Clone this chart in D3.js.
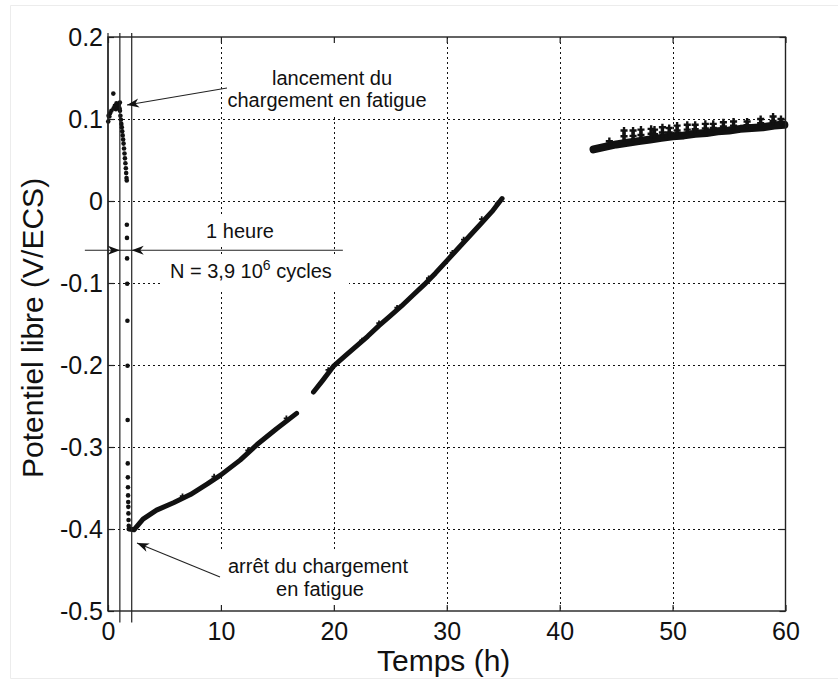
<!DOCTYPE html>
<html>
<head>
<meta charset="utf-8">
<script src="https://cdn.jsdelivr.net/npm/d3@7"></script>
<style>
  body { margin: 0; background: #fff; }
  text { font-family: "Liberation Sans", Arial, Helvetica, sans-serif; fill: #111; }
</style>
</head>
<body>
<svg id="chart" width="838" height="682"></svg>
<script>
// axis ticks
const xTicks = [0, 10, 20, 30, 40, 50, 60];
const yTicks = [-0.5, -0.4, -0.3, -0.2, -0.1, 0, 0.1, 0.2];

// [time (h), potential (V/ECS)]
const startPts = [[0.02, 0.097], [0.05, 0.104], [0.12, 0.103], [0.18, 0.107], [0.3, 0.110],
  [0.47, 0.131], [0.5, 0.113], [0.6, 0.116], [0.7, 0.112], [0.75, 0.119],
  [0.85, 0.114], [0.95, 0.117], [1.02, 0.113], [1.05, 0.120]];
const descentPts = [[1.06, 0.110], [1.1, 0.104], [1.14, 0.099], [1.18, 0.094], [1.22, 0.090],
  [1.26, 0.085], [1.3, 0.080], [1.34, 0.075], [1.38, 0.070], [1.42, 0.064], [1.46, 0.058],
  [1.5, 0.052], [1.54, 0.046], [1.58, 0.040], [1.61, 0.034], [1.64, 0.028], [1.66, 0.025]];
const dropPts = [[1.67, -0.029], [1.68, -0.045], [1.69, -0.070], [1.70, -0.101], [1.72, -0.146],
  [1.73, -0.201], [1.74, -0.267], [1.75, -0.320], [1.76, -0.337], [1.77, -0.349],
  [1.78, -0.359], [1.79, -0.367], [1.80, -0.373], [1.81, -0.381], [1.82, -0.389], [1.84, -0.396]];
const recovery1 = [[1.86, -0.400], [2.3, -0.401], [3.1, -0.388], [4.3, -0.377], [5.8, -0.368],
  [7.3, -0.358], [8.8, -0.345], [10.0, -0.334], [11.7, -0.316], [13.2, -0.297],
  [14.9, -0.278], [16.7, -0.259]];
const recovery2 = [[18.2, -0.233], [19.0, -0.219], [20.0, -0.201], [21, -0.189], [22, -0.177],
  [23, -0.165], [24, -0.152], [25, -0.140], [26, -0.128], [27, -0.115], [28, -0.102],
  [29, -0.088], [30, -0.073], [31, -0.058], [32, -0.043], [33, -0.028], [34, -0.013], [34.9, 0.003]];
// isolated points sitting just above the two recovery segments
const bumps = [[6.6, -0.360], [9.4, -0.336], [12.4, -0.304], [15.8, -0.265], [19.5, -0.206],
  [22.5, -0.170], [24.0, -0.149], [25.6, -0.130], [28.4, -0.094], [30.5, -0.063],
  [31.5, -0.047], [33.1, -0.022], [34.5, -0.003]];
const plateau = [[43.0, 0.063], [44, 0.066], [45, 0.069], [46, 0.071], [47, 0.073], [48, 0.075],
  [49, 0.077], [50, 0.079], [51, 0.080], [52, 0.082], [53, 0.083], [54, 0.085], [55, 0.086],
  [56, 0.088], [57, 0.089], [58, 0.090], [59, 0.092], [59.9, 0.093]];
// [time, low, top] of the noisy columns above the plateau
const spikes = [[44.4, 0.067, 0.073], [45.7, 0.072, 0.086], [46.5, 0.073, 0.086], [47.2, 0.074, 0.087],
  [48.1, 0.076, 0.088], [48.4, 0.076, 0.087], [49.1, 0.077, 0.090], [49.7, 0.078, 0.089],
  [50.4, 0.080, 0.092], [51.3, 0.081, 0.093], [52.0, 0.082, 0.093], [52.9, 0.083, 0.094],
  [53.6, 0.084, 0.094], [54.5, 0.086, 0.096], [55.4, 0.087, 0.097], [56.6, 0.088, 0.097],
  [57.8, 0.090, 0.100], [58.9, 0.092, 0.103], [59.6, 0.093, 0.100]];

// annotation marks (time, potential)
const markerLines = [[0, 0.205, -0.5], [1.05, 0.205, -0.514], [2.1, 0.205, -0.514]];
const hourArrow = {y: -0.06, from: -2.05, to: 20.8, left: 1.05, right: 2.1};

const svg = d3.select("#chart");
const x = d3.scaleLinear().domain([0, 60]).range([108, 785.5]);
const y = d3.scaleLinear().domain([-0.5, 0.2]).range([611, 37]);
const fmtY = d => String(Math.round(d * 10) / 10);
const px = v => Math.round(v) + 0.5;

  // faint picture border
svg.append("path")
    .attr("d", "M850,5.5H10.5V678.5H850")
    .attr("fill", "none")
    .attr("stroke", "#ececec");

  // dotted grid
const grid = svg.append("g")
    .attr("stroke", "#111")
    .attr("stroke-dasharray", "2,3")
    .attr("shape-rendering", "crispEdges");
grid.selectAll("line.gx").data(xTicks.slice(1, -1)).join("line")
    .attr("x1", d => px(x(d))).attr("x2", d => px(x(d)))
    .attr("y1", y(0.2)).attr("y2", y(-0.5));
grid.selectAll("line.gy").data(yTicks.slice(1, -1)).join("line")
    .attr("x1", x(0)).attr("x2", x(60))
    .attr("y1", d => px(y(d))).attr("y2", d => px(y(d)));

  // white boxes behind annotation texts
const boxes = [[226, 40, 206, 74], [200, 214, 80, 31], [163, 257, 186, 33], [221, 550, 198, 58]];
svg.selectAll("rect.box").data(boxes).join("rect")
    .attr("x", d => d[0]).attr("y", d => d[1])
    .attr("width", d => d[2]).attr("height", d => d[3])
    .attr("fill", "#fff");

  // axes with inward ticks
const styleAxis = g => {
  g.select(".domain").remove();
  g.selectAll("line").attr("stroke", "#222").attr("stroke-width", 1.2);
  g.selectAll("text").style("font-size", "25px").attr("fill", "#111");
};
svg.append("g").attr("transform", `translate(0,${y(-0.5)})`)
    .call(d3.axisBottom(x).tickValues(xTicks).tickSize(-6).tickPadding(11).tickFormat(d3.format("d")))
    .call(styleAxis);
svg.append("g").attr("transform", `translate(0,${y(0.2)})`)
    .call(d3.axisTop(x).tickValues(xTicks).tickSize(-6).tickFormat(""))
    .call(styleAxis);
svg.append("g").attr("transform", `translate(${x(0)},0)`)
    .call(d3.axisLeft(y).tickValues(yTicks).tickSize(-6).tickPadding(5).tickFormat(fmtY))
    .call(styleAxis);
svg.append("g").attr("transform", `translate(${x(60)},0)`)
    .call(d3.axisRight(y).tickValues(yTicks).tickSize(-6).tickFormat(""))
    .call(styleAxis);

  // data
const line = d3.line().x(d => x(d[0])).y(d => y(d[1]));
const dataG = svg.append("g").attr("fill", "#111");
[[recovery1, 5], [recovery2, 5], [plateau, 8]].forEach(([pts, w]) => {
  dataG.append("path").datum(pts)
      .attr("d", line)
      .attr("fill", "none")
      .attr("stroke", "#111")
      .attr("stroke-width", w)
      .attr("stroke-linecap", "round")
      .attr("stroke-linejoin", "round");
});
dataG.selectAll("circle.pt")
    .data(startPts.concat(descentPts, dropPts))
    .join("circle")
    .attr("cx", d => x(d[0])).attr("cy", d => y(d[1]))
    .attr("r", 2.3);
dataG.selectAll("path.bump").data(bumps).join("path")
    .attr("transform", d => `translate(${x(d[0])},${y(d[1])})`)
    .attr("d", d3.symbol(d3.symbolCross, 16));
dataG.selectAll("line.spike").data(spikes).join("line")
    .attr("x1", d => x(d[0])).attr("x2", d => x(d[0]))
    .attr("y1", d => y(d[1])).attr("y2", d => y(d[2]))
    .attr("stroke", "#111").attr("stroke-width", 3.5);
dataG.selectAll("path.plus").data(spikes.flatMap(d => [[d[0], d[2]], [d[0], (d[1] + d[2]) / 2]])).join("path")
    .attr("transform", d => `translate(${x(d[0])},${y(d[1])})`)
    .attr("d", d3.symbol(d3.symbolCross, 28));

  // frame
svg.append("rect")
    .attr("x", x(0)).attr("y", y(0.2))
    .attr("width", x(60) - x(0)).attr("height", y(-0.5) - y(0.2))
    .attr("fill", "none").attr("stroke", "#222").attr("stroke-width", 1.4);

  // vertical marker lines
svg.selectAll("line.mark").data(markerLines).join("line")
    .attr("x1", d => x(d[0])).attr("x2", d => x(d[0]))
    .attr("y1", d => y(d[1])).attr("y2", d => y(d[2]))
    .attr("stroke", "#222").attr("stroke-width", 1.2);

  // arrows
const head = "M0,0L-12,-4.5L-8.5,0L-12,4.5Z";
function arrow(x1, y1, x2, y2) {
  svg.append("line")
      .attr("x1", x1).attr("y1", y1).attr("x2", x2).attr("y2", y2)
      .attr("stroke", "#222").attr("stroke-width", 1.1);
  const ang = Math.atan2(y2 - y1, x2 - x1) * 180 / Math.PI;
  svg.append("path")
      .attr("d", head)
      .attr("transform", `translate(${x2},${y2}) rotate(${ang})`)
      .attr("fill", "#111");
}
svg.append("line")
    .attr("x1", x(hourArrow.from)).attr("x2", x(hourArrow.to))
    .attr("y1", y(hourArrow.y)).attr("y2", y(hourArrow.y))
    .attr("stroke", "#222").attr("stroke-width", 1.1);
[[hourArrow.left, 0], [hourArrow.right, 180]].forEach(([t, a]) => {
  svg.append("path")
      .attr("d", head)
      .attr("transform", `translate(${x(t)},${y(hourArrow.y)}) rotate(${a})`)
      .attr("fill", "#111");
});
arrow(227, 88, 127, 105);
arrow(220, 577, 137, 543);

  // annotation texts
const note = (tx, ty, s, anchor) => svg.append("text")
    .attr("x", tx).attr("y", ty)
    .attr("text-anchor", anchor || "middle")
    .style("font-size", "20px")
    .text(s);
note(332, 85, "lancement du");
note(327, 107, "chargement en fatigue");
note(240, 238, "1 heure");
note(318, 573, "arrêt du chargement");
note(320, 596, "en fatigue");
const nText = note(170, 278, "N = 3,9 10", "start");
nText.append("tspan").attr("dy", -8).style("font-size", "14px").text("6");
nText.append("tspan").attr("dy", 8).text(" cycles");

  // axis titles
svg.append("text")
    .attr("x", 377).attr("y", 671)
    .style("font-size", "30px")
    .text("Temps (h)");
svg.append("text")
    .attr("transform", "translate(43,478) rotate(-90)")
    .style("font-size", "30px")
    .text("Potentiel libre (V/ECS)");
</script>
</body>
</html>
